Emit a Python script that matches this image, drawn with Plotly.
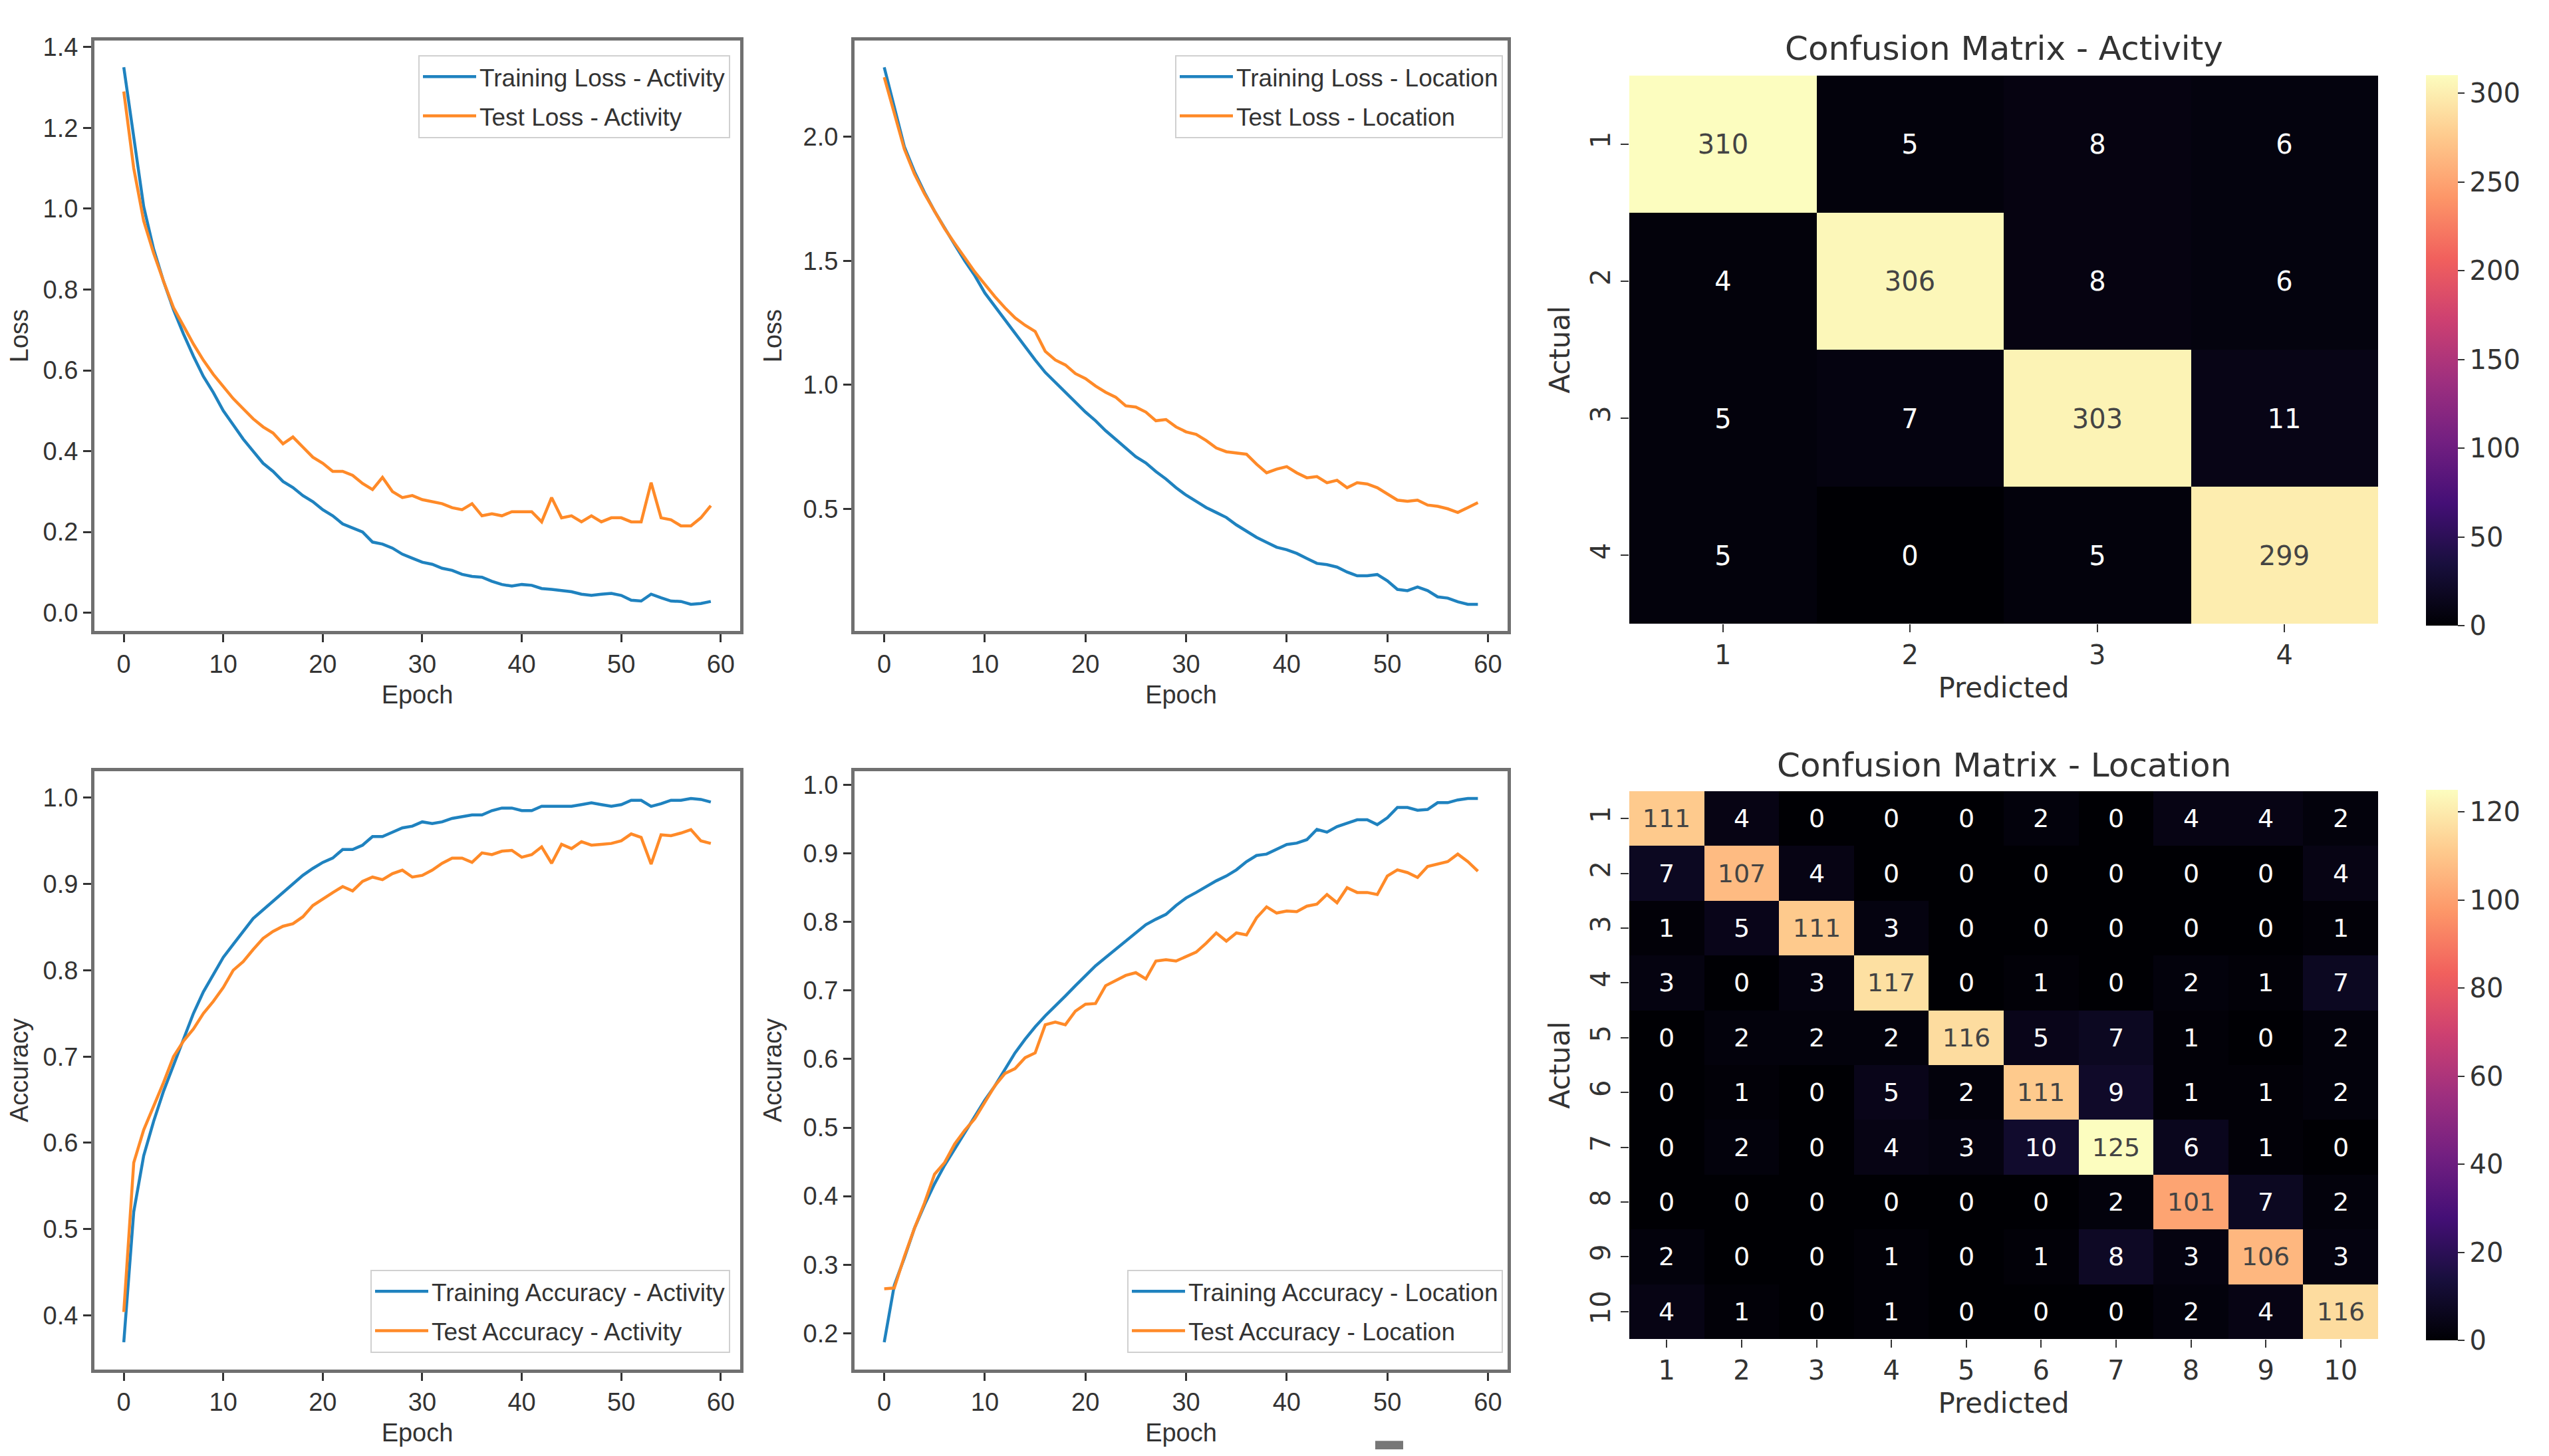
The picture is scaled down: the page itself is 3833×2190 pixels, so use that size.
import plotly.graph_objects as go
from plotly.subplots import make_subplots

W, H = 3833, 2190
OFF = 8  # default body margin of the html page

epochs = list(range(60))

train_loss_activity = [1.35, 1.18, 1.005, 0.90, 0.82, 0.75, 0.69, 0.635, 0.585, 0.545,
                       0.50, 0.465, 0.43, 0.40, 0.37, 0.35, 0.325, 0.31, 0.29, 0.275,
                       0.255, 0.24, 0.22, 0.21, 0.20, 0.175, 0.17, 0.16, 0.145, 0.135,
                       0.125, 0.12, 0.11, 0.105, 0.095, 0.09, 0.088, 0.078, 0.07, 0.066,
                       0.07, 0.068, 0.06, 0.058, 0.055, 0.052, 0.046, 0.043, 0.046, 0.048,
                       0.043, 0.031, 0.029, 0.046, 0.037, 0.029, 0.028, 0.021, 0.023, 0.028]
test_loss_activity = [1.29, 1.10, 0.97, 0.89, 0.82, 0.755, 0.71, 0.665, 0.625, 0.59,
                      0.56, 0.53, 0.505, 0.48, 0.46, 0.445, 0.418, 0.435, 0.41, 0.385,
                      0.37, 0.35, 0.35, 0.34, 0.32, 0.305, 0.335, 0.30, 0.285, 0.29,
                      0.28, 0.275, 0.27, 0.26, 0.255, 0.27, 0.24, 0.245, 0.24, 0.25,
                      0.25, 0.25, 0.225, 0.285, 0.235, 0.24, 0.225, 0.24, 0.225, 0.235,
                      0.235, 0.225, 0.225, 0.322, 0.235, 0.23, 0.215, 0.215, 0.235, 0.265]

train_loss_location = [2.28, 2.12, 1.96, 1.86, 1.775, 1.70, 1.63, 1.565, 1.50, 1.44,
                       1.37, 1.315, 1.26, 1.205, 1.15, 1.10, 1.05, 1.01, 0.97, 0.93,
                       0.89, 0.855, 0.815, 0.78, 0.745, 0.71, 0.685, 0.65, 0.62, 0.585,
                       0.555, 0.53, 0.505, 0.485, 0.465, 0.435, 0.41, 0.385, 0.365, 0.345,
                       0.335, 0.32, 0.30, 0.28, 0.275, 0.265, 0.245, 0.23, 0.23, 0.235,
                       0.21, 0.175, 0.17, 0.185, 0.17, 0.145, 0.14, 0.125, 0.115, 0.115]
test_loss_location = [2.24, 2.09, 1.95, 1.85, 1.77, 1.70, 1.63, 1.57, 1.51, 1.455,
                      1.405, 1.355, 1.31, 1.27, 1.24, 1.215, 1.135, 1.10, 1.08, 1.045,
                      1.025, 0.995, 0.97, 0.95, 0.915, 0.91, 0.89, 0.855, 0.86, 0.83,
                      0.81, 0.80, 0.775, 0.745, 0.73, 0.725, 0.72, 0.68, 0.645, 0.66,
                      0.67, 0.645, 0.625, 0.63, 0.605, 0.615, 0.585, 0.605, 0.60, 0.585,
                      0.56, 0.535, 0.53, 0.535, 0.515, 0.51, 0.50, 0.485, 0.505, 0.525]

train_acc_activity = [0.369, 0.52, 0.585, 0.625, 0.66, 0.69, 0.72, 0.75, 0.775, 0.795,
                      0.815, 0.83, 0.845, 0.86, 0.87, 0.88, 0.89, 0.90, 0.91, 0.918,
                      0.925, 0.93, 0.94, 0.94, 0.945, 0.955, 0.955, 0.96, 0.965, 0.967,
                      0.972, 0.97, 0.972, 0.976, 0.978, 0.98, 0.98, 0.985, 0.988, 0.988,
                      0.985, 0.985, 0.99, 0.99, 0.99, 0.99, 0.992, 0.994, 0.992, 0.99,
                      0.992, 0.997, 0.997, 0.99, 0.993, 0.997, 0.997, 0.999, 0.998, 0.995]
test_acc_activity = [0.404, 0.577, 0.615, 0.642, 0.67, 0.70, 0.718, 0.732, 0.75, 0.764,
                     0.78, 0.80, 0.81, 0.824, 0.837, 0.845, 0.851, 0.854, 0.862, 0.875,
                     0.883, 0.89, 0.897, 0.892, 0.903, 0.908, 0.905, 0.912, 0.916, 0.908,
                     0.91, 0.916, 0.924, 0.93, 0.93, 0.925, 0.936, 0.934, 0.938, 0.939,
                     0.931, 0.934, 0.943, 0.924, 0.946, 0.941, 0.949, 0.945, 0.946, 0.947,
                     0.95, 0.958, 0.954, 0.923, 0.957, 0.956, 0.959, 0.963, 0.95, 0.947]

train_acc_location = [0.187, 0.27, 0.31, 0.353, 0.387, 0.418, 0.445, 0.469, 0.493, 0.517,
                      0.54, 0.561, 0.585, 0.609, 0.629, 0.647, 0.663, 0.677, 0.692, 0.707,
                      0.722, 0.736, 0.748, 0.76, 0.772, 0.784, 0.796, 0.804, 0.811, 0.824,
                      0.835, 0.843, 0.852, 0.86, 0.867, 0.876, 0.888, 0.897, 0.899, 0.906,
                      0.913, 0.915, 0.92, 0.935, 0.931, 0.939, 0.944, 0.949, 0.949, 0.942,
                      0.952, 0.967, 0.967, 0.963, 0.964, 0.974, 0.974, 0.978, 0.98, 0.98]
test_acc_location = [0.265, 0.266, 0.312, 0.353, 0.39, 0.432, 0.449, 0.476, 0.496, 0.513,
                     0.537, 0.561, 0.579, 0.586, 0.602, 0.609, 0.65, 0.654, 0.65, 0.67,
                     0.68, 0.681, 0.707, 0.714, 0.722, 0.726, 0.717, 0.743, 0.745, 0.743,
                     0.749, 0.756, 0.769, 0.784, 0.772, 0.784, 0.781, 0.806, 0.822, 0.813,
                     0.816, 0.815, 0.823, 0.826, 0.84, 0.828, 0.85, 0.843, 0.843, 0.84,
                     0.867, 0.876, 0.872, 0.865, 0.881, 0.884, 0.888, 0.899, 0.888, 0.874]

activity_labels = ['1', '2', '3', '4']
cm_activity = [[310, 5, 8, 6],
               [4, 306, 8, 6],
               [5, 7, 303, 11],
               [5, 0, 5, 299]]

location_labels = ['1', '2', '3', '4', '5', '6', '7', '8', '9', '10']
cm_location = [[111, 4, 0, 0, 0, 2, 0, 4, 4, 2],
               [7, 107, 4, 0, 0, 0, 0, 0, 0, 4],
               [1, 5, 111, 3, 0, 0, 0, 0, 0, 1],
               [3, 0, 3, 117, 0, 1, 0, 2, 1, 7],
               [0, 2, 2, 2, 116, 5, 7, 1, 0, 2],
               [0, 1, 0, 5, 2, 111, 9, 1, 1, 2],
               [0, 2, 0, 4, 3, 10, 125, 6, 1, 0],
               [0, 0, 0, 0, 0, 0, 2, 101, 7, 2],
               [2, 0, 0, 1, 0, 1, 8, 3, 106, 3],
               [4, 1, 0, 1, 0, 0, 0, 2, 4, 116]]

BLUE = '#1f82bf'
ORANGE = '#ff8a28'
FRAME = '#707070'
TXT = '#333333'
LINE_FONT = 'Liberation Sans, Arial, sans-serif'
HM_FONT = 'DejaVu Sans, sans-serif'


def px_x(x):
    return (x - OFF) / W


def px_y(y):
    return 1 - (y - OFF) / H


def box(x0, x1, y0, y1):
    # pixel box -> paper domains
    return [px_x(x0), px_x(x1)], [px_y(y1), px_y(y0)]


def mpl_range(*series):
    lo = min(min(s) for s in series)
    hi = max(max(s) for s in series)
    pad = (hi - lo) * 0.05
    return [lo - pad, hi + pad]


fig = make_subplots(rows=2, cols=3)

line_panels = [
    # (row, col, train, test, names, legend, ytitle, dtick)
    (1, 1, train_loss_activity, test_loss_activity,
     ('Training Loss - Activity', 'Test Loss - Activity'), 'legend', 'Loss', 0.2),
    (1, 2, train_loss_location, test_loss_location,
     ('Training Loss - Location', 'Test Loss - Location'), 'legend2', 'Loss', 0.5),
    (2, 1, train_acc_activity, test_acc_activity,
     ('Training Accuracy - Activity', 'Test Accuracy - Activity'), 'legend3', 'Accuracy', 0.1),
    (2, 2, train_acc_location, test_acc_location,
     ('Training Accuracy - Location', 'Test Accuracy - Location'), 'legend4', 'Accuracy', 0.1),
]

for row, col, tr, te, names, leg, ytitle, dt in line_panels:
    fig.add_trace(go.Scatter(x=epochs, y=tr, mode='lines', name=names[0], legend=leg,
                             legendgroup=names[0], line=dict(color=BLUE, width=4.5)),
                  row=row, col=col)
    fig.add_trace(go.Scatter(x=epochs, y=te, mode='lines', name=names[1], legend=leg,
                             legendgroup=names[1], line=dict(color=ORANGE, width=4.5)),
                  row=row, col=col)
    fig.update_xaxes(range=mpl_range(epochs), dtick=10, tick0=0, row=row, col=col,
                     title=dict(text='Epoch', standoff=14))
    fig.update_yaxes(range=mpl_range(tr, te), dtick=dt, tickformat='.1f', row=row, col=col,
                     title=dict(text=ytitle, standoff=22))

cbar = dict(x=px_x(3648), xanchor='left', xpad=0, ypad=0, yanchor='middle',
            len=828, lenmode='pixels', thickness=48, outlinewidth=0, ticks='outside',
            ticklen=10, tickwidth=2, tickcolor=TXT,
            tickfont=dict(size=40, family=HM_FONT, color=TXT))

fig.add_trace(go.Heatmap(z=cm_activity, x=activity_labels, y=activity_labels,
                         colorscale='Magma', zmin=0, zmax=max(max(r) for r in cm_activity),
                         texttemplate='%{z}', textfont=dict(size=40, family=HM_FONT),
                         colorbar=dict(cbar, y=px_y(519), dtick=50)),
              row=1, col=3)
fig.add_trace(go.Heatmap(z=cm_location, x=location_labels, y=location_labels,
                         colorscale='Magma', zmin=0, zmax=max(max(r) for r in cm_location),
                         texttemplate='%{z}', textfont=dict(size=38, family=HM_FONT),
                         colorbar=dict(cbar, y=px_y(1599), dtick=20)),
              row=2, col=3)

for r in (1, 2):
    fig.update_xaxes(type='category', row=r, col=3, ticks='outside', ticklen=12, tickwidth=2,
                     tickcolor=TXT, showline=False, showgrid=False, zeroline=False,
                     tickfont=dict(size=40, family=HM_FONT, color=TXT),
                     title=dict(text='Predicted', standoff=12,
                                font=dict(size=42, family=HM_FONT, color=TXT)))
    fig.update_yaxes(type='category', autorange='reversed', row=r, col=3, ticks='outside',
                     ticklen=12, tickwidth=2, tickcolor=TXT, tickangle=-90,
                     showline=False, showgrid=False, zeroline=False,
                     tickfont=dict(size=40, family=HM_FONT, color=TXT),
                     title=dict(text='Actual', standoff=10,
                                font=dict(size=42, family=HM_FONT, color=TXT)))

# pixel boxes of the plotting areas
doms = {
    'xaxis': box(142, 1113, 50, 943), 'xaxis2': box(1285, 2267, 50, 943),
    'xaxis3': box(2450, 3576, 103, 932), 'xaxis4': box(142, 1113, 1155, 2059),
    'xaxis5': box(1285, 2267, 1155, 2059), 'xaxis6': box(2450, 3576, 1185, 2013),
}
for name, (xd, yd) in doms.items():
    fig.layout[name].domain = xd
    fig.layout['yaxis' + name[5:]].domain = yd

line_axis = dict(showline=True, mirror=True, linecolor=FRAME, linewidth=5,
                 ticks='outside', ticklen=12, tickwidth=2.5, tickcolor=TXT,
                 showgrid=False, zeroline=False,
                 tickfont=dict(size=38, family=LINE_FONT, color=TXT),
                 title_font=dict(size=38, family=LINE_FONT, color=TXT))
for i in (1, 2, 4, 5):
    sfx = '' if i == 1 else str(i)
    fig.layout['xaxis' + sfx].update(line_axis)
    fig.layout['yaxis' + sfx].update(line_axis)

leg_style = dict(bgcolor='rgba(255,255,255,0.85)', bordercolor='#d0d0d0', borderwidth=2,
                 font=dict(size=37, family=LINE_FONT, color=TXT), itemwidth=80,
                 tracegroupgap=8)
fig.update_layout(
    width=W, height=H,
    margin=dict(l=0, r=0, t=0, b=0),
    plot_bgcolor='white', paper_bgcolor='white',
    legend=dict(x=px_x(1098), y=px_y(72), xanchor='right', yanchor='top', **leg_style),
    legend2=dict(x=px_x(2260), y=px_y(72), xanchor='right', yanchor='top', **leg_style),
    legend3=dict(x=px_x(1098), y=px_y(2034), xanchor='right', yanchor='bottom', **leg_style),
    legend4=dict(x=px_x(2260), y=px_y(2034), xanchor='right', yanchor='bottom', **leg_style),
    annotations=[
        dict(text='Confusion Matrix - Activity', x=px_x(3013), y=px_y(62), xref='paper',
             yref='paper', showarrow=False, xanchor='center', yanchor='middle',
             font=dict(size=50, family=HM_FONT, color=TXT)),
        dict(text='Confusion Matrix - Location', x=px_x(3013), y=px_y(1146), xref='paper',
             yref='paper', showarrow=False, xanchor='center', yanchor='middle',
             font=dict(size=50, family=HM_FONT, color=TXT)),
    ],
    # small grey mark below the lower middle panel in the source image
    shapes=[dict(type='rect', xref='paper', yref='paper', x0=px_x(2068), x1=px_x(2110),
                 y0=px_y(2180), y1=px_y(2167), fillcolor='#777777', line_width=0)],
)

fig.write_html("out.html")
